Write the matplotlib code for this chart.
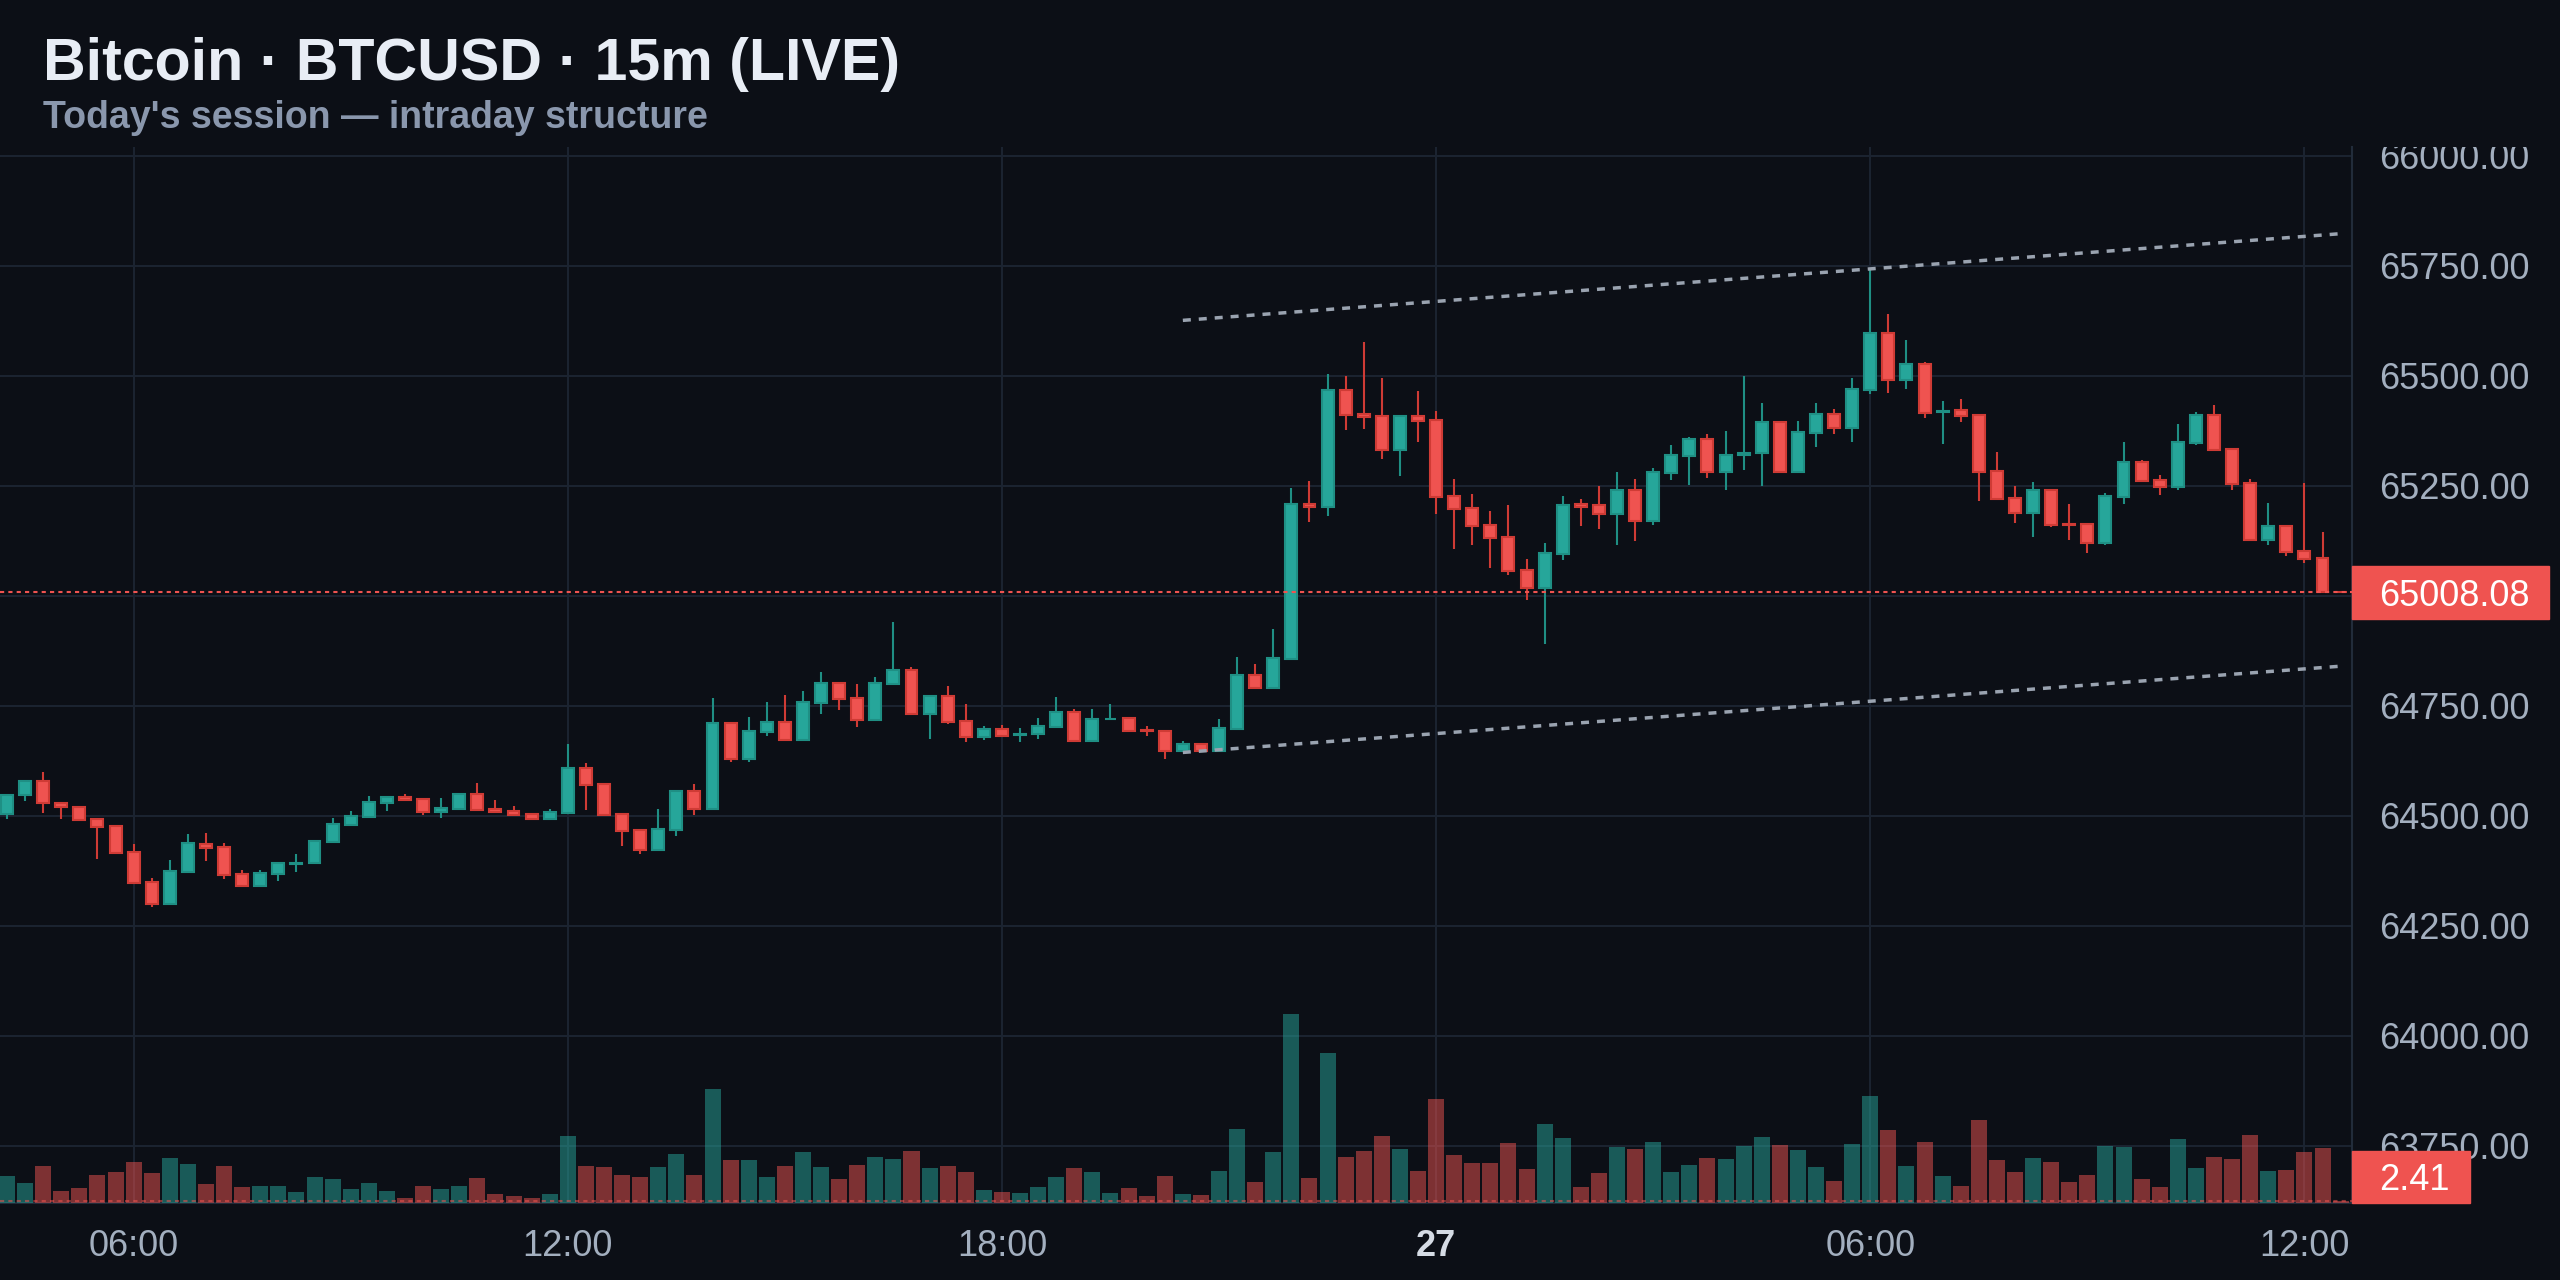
import numpy as np
import pandas as pd
import matplotlib.pyplot as plt
from matplotlib.patches import Rectangle
from matplotlib.transforms import blended_transform_factory

plt.rcParams['font.family'] = ['Liberation Sans', 'DejaVu Sans']

# ── colours ─────────────────────────────────────────────────────────────────
BG = '#0c0f16'
GRID = '#1c2431'
UP, DOWN = '#26a69a', '#ef5350'
UP_EDGE, DOWN_EDGE = '#1f8f84', '#cf3b35'
TXT = '#a3afbf'

# ── data: 15m candles, 26th 04:15 -> 27th 12:30 ────────────────────────────
start = '2024-05-26 04:15'
opens = [
    64505, 64548, 64580, 64530, 64519, 64492, 64477, 64417, 64349, 64300,
    64372, 64437, 64429, 64367, 64341, 64368, 64391, 64393, 64441, 64479,
    64498, 64530, 64542, 64538, 64509, 64515, 64549, 64515, 64511, 64503,
    64492, 64506, 64608, 64572, 64504, 64467, 64422, 64467, 64556, 64515,
    64711, 64629, 64690, 64713, 64672, 64756, 64802, 64767, 64718, 64799,
    64831, 64731, 64772, 64715, 64679, 64697, 64684, 64686, 64702, 64736,
    64670, 64720, 64722, 64694, 64693, 64648, 64663, 64648, 64698, 64820,
    64791, 64856, 65208, 65202, 65467, 65413, 65408, 65331, 65408, 65399,
    65227, 65199, 65161, 65133, 65058, 65018, 65095, 65208, 65206, 65186,
    65240, 65171, 65279, 65318, 65356, 65281, 65321, 65324, 65395, 65281,
    65370, 65413, 65381, 65468, 65597, 65490, 65527, 65417, 65422, 65411,
    65283, 65222, 65189, 65240, 65163, 65163, 65120, 65224, 65304, 65263,
    65248, 65347, 65411, 65333, 65256, 65127, 65158, 65101, 65085, 65008.08]
highs = [
    64550, 64582, 64599, 64531, 64520, 64493, 64477, 64437, 64358, 64399,
    64458, 64461, 64438, 64377, 64377, 64393, 64413, 64443, 64495, 64511,
    64545, 64543, 64549, 64538, 64540, 64550, 64574, 64536, 64522, 64504,
    64515, 64663, 64620, 64572, 64504, 64470, 64515, 64557, 64572, 64767,
    64712, 64724, 64758, 64774, 64783, 64827, 64802, 64799, 64815, 64940,
    64838, 64773, 64795, 64754, 64704, 64706, 64699, 64722, 64770, 64743,
    64743, 64754, 64722, 64704, 64694, 64670, 64663, 64720, 64861, 64845,
    64924, 65245, 65261, 65504, 65499, 65577, 65495, 65409, 65465, 65420,
    65265, 65231, 65193, 65206, 65083, 65120, 65227, 65220, 65249, 65281,
    65265, 65290, 65343, 65361, 65367, 65374, 65499, 65438, 65396, 65397,
    65438, 65424, 65495, 65745, 65640, 65581, 65531, 65443, 65447, 65412,
    65327, 65249, 65258, 65241, 65208, 65164, 65233, 65349, 65308, 65274,
    65390, 65418, 65433, 65334, 65265, 65211, 65159, 65256, 65145, 65008.08]
lows = [
    64492, 64534, 64507, 64493, 64490, 64402, 64415, 64347, 64293, 64299,
    64371, 64397, 64356, 64340, 64340, 64352, 64372, 64392, 64440, 64477,
    64497, 64511, 64536, 64502, 64495, 64514, 64513, 64508, 64502, 64492,
    64492, 64505, 64513, 64501, 64431, 64413, 64421, 64454, 64502, 64514,
    64622, 64622, 64681, 64671, 64672, 64731, 64740, 64702, 64717, 64798,
    64730, 64674, 64708, 64668, 64672, 64679, 64668, 64674, 64701, 64669,
    64669, 64719, 64691, 64681, 64629, 64647, 64647, 64647, 64696, 64790,
    64790, 64855, 65168, 65181, 65377, 65379, 65311, 65272, 65349, 65186,
    65106, 65115, 65063, 65047, 64990, 64890, 65081, 65159, 65152, 65115,
    65124, 65161, 65263, 65252, 65267, 65240, 65286, 65249, 65280, 65280,
    65338, 65367, 65349, 65458, 65461, 65470, 65404, 65345, 65395, 65215,
    65219, 65165, 65133, 65156, 65127, 65097, 65115, 65208, 65260, 65229,
    65240, 65342, 65330, 65240, 65126, 65115, 65090, 65074, 65008.08, 65008.08]
closes = [
    64548, 64580, 64530, 64519, 64491, 64475, 64416, 64348, 64300, 64374,
    64438, 64427, 64366, 64341, 64370, 64392, 64393, 64442, 64481, 64499,
    64531, 64542, 64536, 64509, 64517, 64549, 64514, 64508, 64502, 64493,
    64508, 64608, 64570, 64502, 64465, 64422, 64470, 64556, 64515, 64711,
    64629, 64692, 64713, 64672, 64758, 64802, 64765, 64718, 64802, 64831,
    64731, 64772, 64713, 64679, 64697, 64681, 64686, 64704, 64736, 64670,
    64720, 64721, 64693, 64693, 64647, 64663, 64648, 64699, 64820, 64791,
    64858, 65208, 65202, 65467, 65411, 65406, 65331, 65408, 65398, 65225,
    65197, 65158, 65131, 65057, 65018, 65097, 65206, 65202, 65187, 65240,
    65171, 65281, 65320, 65356, 65281, 65320, 65324, 65395, 65281, 65372,
    65413, 65381, 65470, 65597, 65490, 65527, 65415, 65420, 65409, 65282,
    65220, 65189, 65240, 65161, 65161, 65120, 65227, 65304, 65261, 65248,
    65349, 65411, 65331, 65254, 65127, 65158, 65099, 65083, 65008.08, 65008.08]
volumes = [
    26.7, 19.7, 36.7, 11.7, 14.7, 27.7, 30.7, 40.7, 29.7, 44.7,
    38.7, 18.7, 36.7, 15.7, 16.7, 16.7, 10.7, 25.7, 23.7, 13.7,
    19.7, 11.7, 4.7, 16.7, 13.7, 16.7, 24.7, 8.7, 6.7, 4.7,
    8.7, 66.7, 36.7, 35.7, 27.7, 25.7, 35.7, 48.7, 27.7, 113.7,
    42.7, 42.7, 25.7, 36.7, 50.7, 35.7, 23.7, 37.7, 45.7, 43.7,
    51.7, 34.7, 36.7, 30.7, 12.7, 10.7, 9.7, 15.7, 25.7, 34.7,
    30.7, 9.7, 14.7, 6.7, 26.7, 8.7, 7.7, 31.7, 73.7, 20.7,
    50.7, 188.7, 24.7, 149.7, 45.7, 51.7, 66.7, 53.7, 31.7, 103.7,
    47.7, 39.7, 39.7, 59.7, 33.7, 78.7, 64.7, 15.7, 29.7, 55.7,
    53.7, 60.7, 30.7, 37.7, 44.7, 43.7, 56.7, 65.7, 57.7, 52.7,
    35.7, 21.7, 58.7, 106.7, 72.7, 36.7, 60.7, 26.7, 16.7, 82.7,
    42.7, 30.7, 44.7, 40.7, 20.7, 27.7, 56.7, 55.7, 23.7, 15.7,
    63.7, 34.7, 45.7, 43.7, 67.7, 31.7, 32.7, 50.7, 54.7, 2.41]

price_ticks = [63750, 64000, 64250, 64500, 64750, 65000, 65250, 65500, 65750, 66000]

# channel trendlines (candle index, price)
chan_x = [65, 129]
upper_y = [65626, 65823]
lower_y = [64644, 64840]

# ── derived ────────────────────────────────────────────────────────────────
o, h, l, c = map(np.array, (opens, highs, lows, closes))
vol = np.array(volumes)
idx = np.arange(len(o))
times = pd.date_range(start, periods=len(o), freq='15min')
up = c > o
fill = np.where(up, UP, DOWN)
edge = np.where(up, UP_EDGE, DOWN_EDGE)

# ── figure ─────────────────────────────────────────────────────────────────
fig = plt.figure(figsize=(25.6, 12.8), dpi=100, facecolor=BG)
rect = [0, 77 / 1280, 2352 / 2560, 1056 / 1280]
ax = fig.add_axes(rect)
ax.set_facecolor(BG)
ax.set_xlim(-0.387, 129.63)
ax.set_ylim(63620, 66020)
ax.set_xticks([]); ax.set_yticks([])
for s in ('left', 'top'):
    ax.spines[s].set_visible(False)
for s in ('right', 'bottom'):
    ax.spines[s].set_color('#222c3a'); ax.spines[s].set_linewidth(1.5)

for p in price_ticks:
    ax.axhline(p, color=GRID, lw=1.4, zorder=0)
grid_idx = [i for i, t in enumerate(times) if t.minute == 0 and t.hour % 6 == 0]
for i in grid_idx:
    ax.axvline(i, color=GRID, lw=1.4, zorder=0)

# candles
ax.vlines(idx, l, h, colors=edge, lw=1.5, zorder=2)
ax.bar(idx, np.abs(c - o), bottom=np.minimum(o, c), width=0.66,
       color=fill, edgecolor=edge, linewidth=1.5, zorder=3)

# channel + last price line
ax.plot(chan_x, upper_y, color='#9aa3b0', lw=2.5, dashes=(2.3, 2.3), zorder=4)
ax.plot(chan_x, lower_y, color='#9aa3b0', lw=2.5, dashes=(2.3, 2.3), zorder=4)
ax.axhline(c[-1], color=DOWN, lw=1.5, dashes=(2, 2), zorder=5)

# volume overlay
axv = fig.add_axes(rect, sharex=ax)
axv.patch.set_alpha(0)
axv.axis('off')
axv.set_ylim(0, 1056)
axv.bar(idx, vol, width=0.885, color=np.where(up, UP, DOWN), alpha=0.5, zorder=1)
axv.axhline(vol[-1], color=DOWN, lw=1.5, dashes=(2, 2), alpha=0.55, zorder=2)

# time labels
tr = blended_transform_factory(ax.transData, ax.transAxes)
for i in grid_idx:
    t = times[i]
    if t.hour == 0:
        ax.text(i, -0.0502, f'{t.day}', transform=tr, ha='center', va='baseline',
                fontsize=26, color='#d5dbe4', fontweight='bold', clip_on=False)
    else:
        ax.text(i, -0.0502, t.strftime('%H:%M'), transform=tr, ha='center',
                va='baseline', fontsize=26, color=TXT, clip_on=False)

# right price scale
axr = fig.add_axes([2352 / 2560, 77 / 1280, 208 / 2560, 1056 / 1280])
axr.axis('off')
axr.set_xlim(0, 208)
axr.set_ylim(63620, 66020)
for p in price_ticks:
    axr.text(27, p, f'{p:.2f}', fontsize=26, color=TXT, va='center_baseline',
             ha='left', clip_on=True, zorder=2)
axr.add_patch(Rectangle((0, c[-1] - 60.2), 197, 120.4, color=DOWN, zorder=4,
                        clip_on=False))
axr.text(27, c[-1], f'{c[-1]:.2f}', fontsize=26, color='white',
         va='center_baseline', ha='left', zorder=5, clip_on=False)

# volume scale label (clamped to bottom)
axrv = fig.add_axes([2352 / 2560, 77 / 1280, 208 / 2560, 1056 / 1280])
axrv.axis('off')
axrv.patch.set_alpha(0)
axrv.set_xlim(0, 208)
axrv.set_ylim(0, 1056)
vb = max(0, vol[-1] - 26)
axrv.add_patch(Rectangle((0, vb), 118, 52, color=DOWN, zorder=4, clip_on=False))
axrv.text(27, vb + 26, f'{vol[-1]:.2f}', fontsize=26, color='white',
          va='center_baseline', ha='left', zorder=5, clip_on=False)

# titles
fig.text(43 / 2560, 1 - 80 / 1280, 'Bitcoin · BTCUSD · 15m (LIVE)', fontsize=42.6,
         fontweight='bold', color='#e8edf5', va='baseline')
fig.text(43 / 2560, 1 - 128 / 1280, "Today's session — intraday structure", fontsize=27,
         fontweight='bold', color='#8a97ad', va='baseline')

fig.savefig('out.png', dpi=100, facecolor=BG)
